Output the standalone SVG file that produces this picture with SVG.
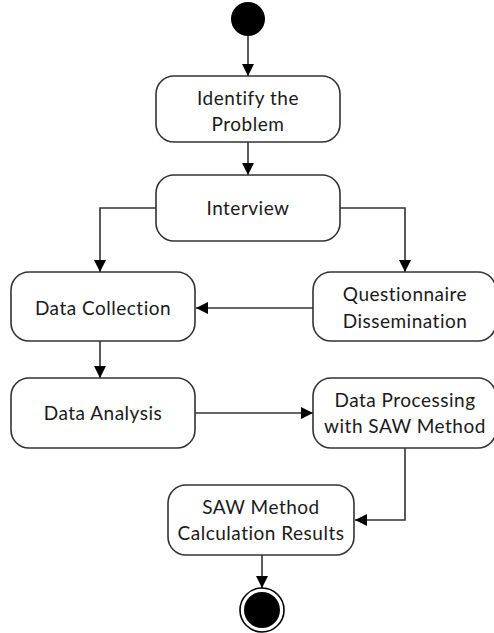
<svg xmlns="http://www.w3.org/2000/svg" width="494" height="633" viewBox="0 0 494 633">
<style>
.box{fill:#fff;stroke:#333;stroke-width:1.6}
.t{font-family:Lato,"Open Sans",sans-serif;font-size:19px;letter-spacing:0.5px;fill:#1a1a1a;text-anchor:middle}
.c{fill:none;stroke:#333;stroke-width:1.6}
</style>
<defs>
<marker id="ah" markerWidth="12" markerHeight="12" refX="12" refY="6" orient="auto" markerUnits="userSpaceOnUse">
<path d="M0,0 L12,6 L0,12 Z" fill="#000"/>
</marker>
</defs>
<rect width="494" height="633" fill="#fff"/>
<g id="connectors">
<line class="c" x1="248" y1="36" x2="248" y2="76" marker-end="url(#ah)"/>
<line class="c" x1="248" y1="142" x2="248" y2="175" marker-end="url(#ah)"/>
<polyline class="c" points="156,208 100,208 100,272" marker-end="url(#ah)"/>
<polyline class="c" points="340,208 405,208 405,272" marker-end="url(#ah)"/>
<line class="c" x1="313" y1="308" x2="196" y2="308" marker-end="url(#ah)"/>
<line class="c" x1="100" y1="341" x2="100" y2="378" marker-end="url(#ah)"/>
<line class="c" x1="195" y1="413" x2="313" y2="413" marker-end="url(#ah)"/>
<polyline class="c" points="405,448 405,520 355,520" marker-end="url(#ah)"/>
<line class="c" x1="262" y1="555" x2="262" y2="588" marker-end="url(#ah)"/>
</g>
<g id="start"><circle cx="248" cy="19" r="17" fill="#000"/></g>
<g id="identify"><rect class="box" x="156" y="76" width="184" height="66" rx="18"/><text class="t" x="248" y="105">Identify the</text><text class="t" x="248" y="131">Problem</text></g>
<g id="interview"><rect class="box" x="156" y="175" width="184" height="66" rx="18"/><text class="t" x="248" y="215">Interview</text></g>
<g id="datacollection"><rect class="box" x="11" y="272" width="184" height="69" rx="18"/><text class="t" x="103" y="315">Data Collection</text></g>
<g id="questionnaire"><rect class="box" x="313" y="272" width="183" height="69" rx="18"/><text class="t" x="405" y="301">Questionnaire</text><text class="t" x="405" y="328">Dissemination</text></g>
<g id="dataanalysis"><rect class="box" x="11" y="378" width="184" height="70" rx="18"/><text class="t" x="103" y="420">Data Analysis</text></g>
<g id="dataprocessing"><rect class="box" x="313" y="378" width="183" height="70" rx="18"/><text class="t" x="405" y="407">Data Processing</text><text class="t" x="405" y="433">with SAW Method</text></g>
<g id="sawresults"><rect class="box" x="168" y="485" width="186" height="70" rx="18"/><text class="t" x="261" y="514">SAW Method</text><text class="t" x="261" y="540">Calculation Results</text></g>
<g id="end"><circle cx="262" cy="610" r="22" fill="#fff" stroke="#000" stroke-width="1.6"/><circle cx="262" cy="610" r="18" fill="#000"/></g>
</svg>
